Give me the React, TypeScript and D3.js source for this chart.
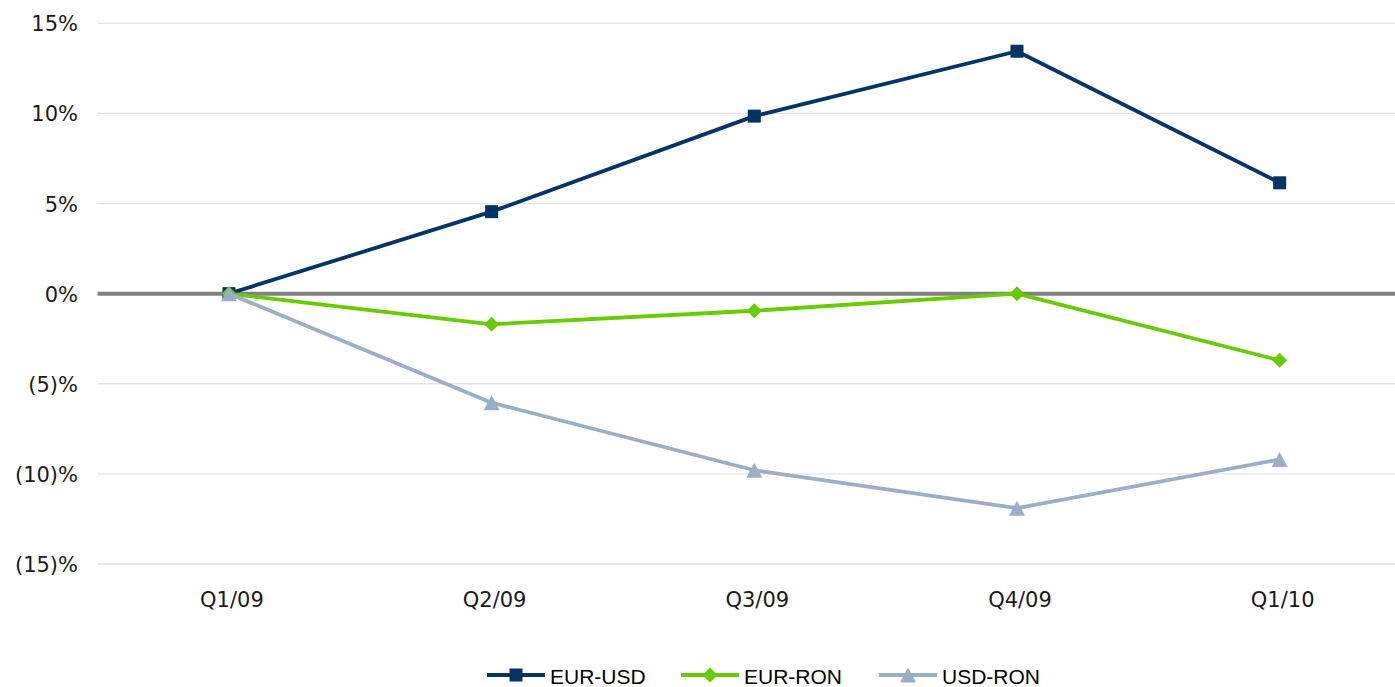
import React from "react";
import * as d3 from "d3";

const categories = ["Q1/09", "Q2/09", "Q3/09", "Q4/09", "Q1/10"];
const eurUsd = [0, 4.55, 9.85, 13.45, 6.15];
const eurRon = [0, -1.7, -0.95, 0.0, -3.7];
const usdRon = [0, -6.05, -9.8, -11.9, -9.2];
const yTicks = [15, 10, 5, 0, -5, -10, -15];

const W = 1395;
const H = 687;

type Series = { name: string; values: number[]; color: string; marker: "square" | "diamond" | "triangle" };

const series: Series[] = [
  { name: "EUR-USD", values: eurUsd, color: "#003466", marker: "square" },
  { name: "EUR-RON", values: eurRon, color: "#66cc00", marker: "diamond" },
  { name: "USD-RON", values: usdRon, color: "#9aaec6", marker: "triangle" },
];

const fmtPct = (v: number) => (v < 0 ? `(${Math.abs(v)})%` : `${v}%`);

function Marker({ kind, x, y, color }: { kind: Series["marker"]; x: number; y: number; color: string }) {
  if (kind === "square") {
    return <rect x={x - 6.5} y={y - 6.5} width={13} height={13} fill={color} />;
  }
  if (kind === "diamond") {
    const r = 7.5;
    return <path d={`M${x},${y - r}L${x + r},${y}L${x},${y + r}L${x - r},${y}Z`} fill={color} />;
  }
  const h = 15;
  const w = 16;
  return <path d={`M${x},${y - h / 2}L${x + w / 2},${y + h / 2}L${x - w / 2},${y + h / 2}Z`} fill={color} />;
}

export default function App() {
  const x = d3.scaleBand<string>().domain(categories).range([97.6, 1411]).padding(0);
  const cx = (c: string) => (x(c) as number) + x.bandwidth() / 2;
  const y = d3.scaleLinear().domain([-15, 15]).range([564, 23.3]);

  const line = d3
    .line<number>()
    .x((_, i) => cx(categories[i]))
    .y((d) => y(d));

  const legendItems = [
    { s: series[0], x0: 487 },
    { s: series[1], x0: 681 },
    { s: series[2], x0: 879 },
  ];

  return (
    <div style={{ position: "absolute", left: 0, top: 0 }}>
      <svg width={W} height={H} style={{ display: "block", background: "#ffffff" }}>
        {yTicks.map((t) => (
          <line
            key={`g${t}`}
            x1={97.6}
            x2={1411}
            y1={y(t)}
            y2={y(t)}
            stroke={t === 0 ? "#808080" : "#e3e3e3"}
            strokeWidth={t === 0 ? 4 : 1.3}
          />
        ))}
        {yTicks.map((t) => (
          <text
            key={`t${t}`}
            x={78}
            y={y(t) + 8}
            textAnchor="end"
            fontFamily="'DejaVu Sans', sans-serif"
            fontSize={21}
            fill="#1a1a1a"
          >
            {fmtPct(t)}
          </text>
        ))}
        {categories.map((c) => (
          <text
            key={c}
            x={cx(c) + 3}
            y={607}
            textAnchor="middle"
            fontFamily="'DejaVu Sans', sans-serif"
            fontSize={21}
            fill="#1a1a1a"
          >
            {c}
          </text>
        ))}
        {series.map((s) => (
          <g key={s.name}>
            <path d={line(s.values) || ""} fill="none" stroke={s.color} strokeWidth={3.8} strokeLinejoin="round" />
            {s.values.map((v, i) => (
              <Marker key={i} kind={s.marker} x={cx(categories[i])} y={y(v)} color={s.color} />
            ))}
          </g>
        ))}
        {legendItems.map(({ s, x0 }) => (
          <g key={`l${s.name}`}>
            <line x1={x0} x2={x0 + 58} y1={675} y2={675} stroke={s.color} strokeWidth={3.8} />
            <Marker kind={s.marker} x={x0 + 29} y={675} color={s.color} />
            <text
              x={x0 + 63}
              y={684}
              fontFamily="'Liberation Sans', Arial, sans-serif"
              fontSize={21}
              fill="#000000"
            >
              {s.name}
            </text>
          </g>
        ))}
      </svg>
    </div>
  );
}
